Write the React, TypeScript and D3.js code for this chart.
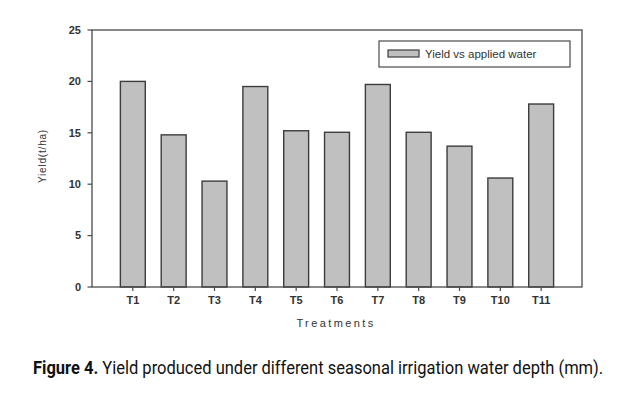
import React, { useLayoutEffect, useRef, useState } from "react";
import * as d3 from "d3";

const categories = ["T1", "T2", "T3", "T4", "T5", "T6", "T7", "T8", "T9", "T10", "T11"];
const yieldValues = [20.0, 14.8, 10.3, 19.5, 15.2, 15.05, 19.7, 15.05, 13.7, 10.6, 17.8];
const yTicks = [0, 5, 10, 15, 20, 25];
const legendLabel = "Yield vs applied water";
const xTitle = "Treatments";
const yTitle = "Yield(t/ha)";
const captionBold = "Figure 4.";
const captionRest = " Yield produced under different seasonal irrigation water depth (mm).";

export default function App() {
  const W = 630, H = 393;
  const left = 92, right = 582, top = 30, bottom = 287;
  const x = d3.scalePoint<string>().domain(categories).range([left, right]).padding(1);
  const y = d3.scaleLinear().domain([0, 25]).range([bottom, top]);
  const bw = x.step() * 0.61;
  const axisColor = "#4a4a4a";
  const font = "'Liberation Sans', Arial, sans-serif";
  const capRef = useRef<SVGTextElement>(null);
  const [sx, setSx] = useState(0.88);
  useLayoutEffect(() => {
    if (capRef.current) {
      const w = capRef.current.getComputedTextLength();
      if (w > 0) setSx(570 / w);
    }
  }, []);
  return (
    <svg width={W} height={H} style={{ position: "absolute", left: 0, top: 0, background: "#fff" }}>
      <rect x={0} y={0} width={W} height={H} fill="#fff" />
      {categories.map((c, i) => (
        <rect key={c} x={(x(c) as number) - bw / 2} y={y(yieldValues[i])} width={bw}
          height={bottom - y(yieldValues[i])} fill="#c0c0c0" stroke="#3c3c3c" strokeWidth={1.4} />
      ))}
      <rect x={left} y={top} width={right - left} height={bottom - top} fill="none" stroke={axisColor} strokeWidth={1.3} />
      {yTicks.map((t) => (
        <g key={t}>
          <line x1={left - 4.5} x2={left} y1={y(t)} y2={y(t)} stroke={axisColor} strokeWidth={1.2} />
          <text x={81} y={y(t)} dy="0.35em" textAnchor="end" fontFamily={font} fontSize={11} fontWeight="bold" fill="#333">{t}</text>
        </g>
      ))}
      {categories.map((c) => (
        <g key={c}>
          <line x1={x(c)} x2={x(c)} y1={bottom} y2={bottom + 4} stroke={axisColor} strokeWidth={1.2} />
          <text x={x(c)} y={300} dy="0.35em" textAnchor="middle" fontFamily={font} fontSize={11} fontWeight="bold" fill="#333">{c}</text>
        </g>
      ))}
      <text x={336} y={323} dy="0.35em" textAnchor="middle" fontFamily={font} fontSize={11} letterSpacing={2.4} fill="#333">{xTitle}</text>
      <text transform={`translate(42,156) rotate(-90)`} dy="0.35em" textAnchor="middle" fontFamily={font} fontSize={10} letterSpacing={0.8} fill="#333">{yTitle}</text>
      <rect x={379} y={41} width={191} height={26} fill="#fff" stroke={axisColor} strokeWidth={1.2} />
      <rect x={388} y={50} width={31} height={7} fill="#c0c0c0" stroke="#3c3c3c" strokeWidth={1.2} />
      <text x={425} y={53.5} dy="0.35em" fontFamily={font} fontSize={11.5} fill="#333">{legendLabel}</text>
      <g transform={`translate(33,367) scale(${sx},1)`}>
        <text ref={capRef} x={0} y={0} dy="0.35em" fontFamily="'Roboto', 'Liberation Sans', sans-serif" fontSize={19} fill="#111">
          <tspan fontWeight="bold">{captionBold}</tspan>
          <tspan>{captionRest}</tspan>
        </text>
      </g>
    </svg>
  );
}
